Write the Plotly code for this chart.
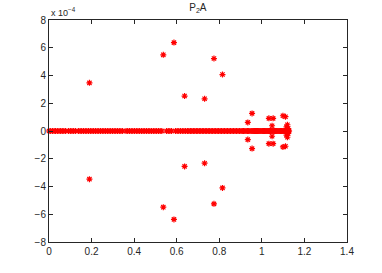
import plotly.graph_objects as go

# Points lying on the real axis (imag = 0)
axis_x = [0.00, 0.008, 0.016, 0.024, 0.031, 0.039, 0.047, 0.055, 0.062, 0.070, 0.078,
          0.092, 0.100, 0.108, 0.116, 0.124,
          0.138, 0.146, 0.154, 0.162, 0.170, 0.178, 0.186, 0.194, 0.202, 0.210, 0.218,
          0.226, 0.234, 0.242, 0.250, 0.258, 0.266, 0.274, 0.282, 0.290, 0.298, 0.306,
          0.314, 0.322, 0.330, 0.338, 0.346,
          0.362, 0.370, 0.378, 0.386, 0.394, 0.402, 0.410, 0.418, 0.426, 0.434, 0.442,
          0.450, 0.458, 0.466, 0.474, 0.482, 0.490, 0.498, 0.506, 0.514, 0.522, 0.530,
          0.552, 0.560, 0.568, 0.576,
          0.594, 0.602, 0.610, 0.618, 0.626, 0.634, 0.642, 0.650, 0.657, 0.664, 0.671,
          0.678, 0.685, 0.692, 0.699, 0.706, 0.713, 0.720, 0.727, 0.734, 0.741, 0.748,
          0.755, 0.762, 0.769, 0.776, 0.783, 0.790, 0.797, 0.804, 0.811, 0.818, 0.825,
          0.832, 0.839, 0.846, 0.853, 0.860, 0.867, 0.874, 0.881, 0.888, 0.895, 0.902,
          0.908, 0.914, 0.920, 0.926, 0.932, 0.938, 0.944, 0.950, 0.955, 0.960, 0.965,
          0.970, 0.975, 0.980, 0.985, 0.990, 0.995, 1.000, 1.004, 1.008, 1.012, 1.016,
          1.020, 1.024, 1.028, 1.032, 1.036, 1.040, 1.044, 1.048, 1.052, 1.056, 1.060,
          1.064, 1.068, 1.072, 1.076, 1.080, 1.084, 1.088, 1.092, 1.096, 1.100, 1.104,
          1.108, 1.111, 1.114, 1.117, 1.120, 1.122, 1.124, 1.126, 1.128]
axis_y = [0.0] * len(axis_x)

# Complex-conjugate points off the axis (real part, imaginary part)
off_x = [0.190, 0.537, 0.587, 0.637, 0.731, 0.775, 0.815, 0.934, 0.954,
         1.033, 1.053, 1.048, 1.099, 1.111, 1.120, 1.116, 1.124]
off_y_pos = [3.47e-4, 5.49e-4, 6.37e-4, 2.52e-4, 2.32e-4, 5.22e-4, 4.07e-4, 0.62e-4, 1.27e-4,
             0.91e-4, 0.91e-4, 0.38e-4, 1.10e-4, 1.03e-4, 0.45e-4, 0.30e-4, 0.18e-4]
off_y_neg = [-3.47e-4, -5.49e-4, -6.37e-4, -2.55e-4, -2.32e-4, -5.25e-4, -4.10e-4, -0.62e-4, -1.27e-4,
             -0.91e-4, -0.91e-4, -0.38e-4, -1.15e-4, -1.10e-4, -0.45e-4, -0.30e-4, -0.18e-4]

x_ticks = [0, 0.2, 0.4, 0.6, 0.8, 1, 1.2, 1.4]
x_ticktext = ["0", "0.2", "0.4", "0.6", "0.8", "1", "1.2", "1.4"]
y_ticks = [-8e-4, -6e-4, -4e-4, -2e-4, 0, 2e-4, 4e-4, 6e-4, 8e-4]
y_ticktext = ["\u22128", "\u22126", "\u22124", "\u22122", "0", "2", "4", "6", "8"]

all_x = axis_x + off_x + off_x
all_y = axis_y + off_y_pos + off_y_neg

fig = go.Figure()
fig.add_trace(go.Scatter(
    x=all_x, y=all_y, mode="markers",
    marker=dict(symbol="asterisk-open", size=5, color="red",
                line=dict(color="red", width=1.2)),
    showlegend=False, hoverinfo="skip", cliponaxis=False))

font = dict(family="Liberation Sans, Arial, Helvetica, sans-serif", size=10, color="#262626")
axis_common = dict(showgrid=False, zeroline=False, showline=True, linecolor="#262626",
                   linewidth=1, mirror="ticks", ticks="inside", ticklen=4,
                   tickcolor="#262626", tickfont=font, automargin=False)

fig.update_layout(
    width=382, height=273,
    margin=dict(l=49, r=35, t=20, b=31),
    paper_bgcolor="white", plot_bgcolor="white",
    font=font,
    hovermode=False,
    title=dict(text="P<sub>2</sub>A", x=0.518, xanchor="center", y=0.972, yanchor="middle",
               automargin=False,
               font=dict(family="Liberation Sans, Arial, sans-serif", size=10, color="#262626")),
    xaxis=dict(range=[0, 1.4], tickvals=x_ticks, ticktext=x_ticktext, **axis_common),
    yaxis=dict(range=[-8e-4, 8e-4], tickvals=y_ticks, ticktext=y_ticktext, **axis_common),
    annotations=[dict(text="x 10<sup>\u22124</sup>", xref="paper", yref="paper",
                      x=0, y=1, xanchor="left", yanchor="bottom", showarrow=False,
                      font=dict(family="Liberation Sans, Arial, sans-serif", size=9, color="#262626"))],
)

# Remove the browser's default 8px page margin so the figure fills the window exactly.
fig.write_html("out.html",
               config={"displayModeBar": False, "staticPlot": True},
               post_script="document.body.style.margin='0px';document.body.style.overflow='hidden';")
